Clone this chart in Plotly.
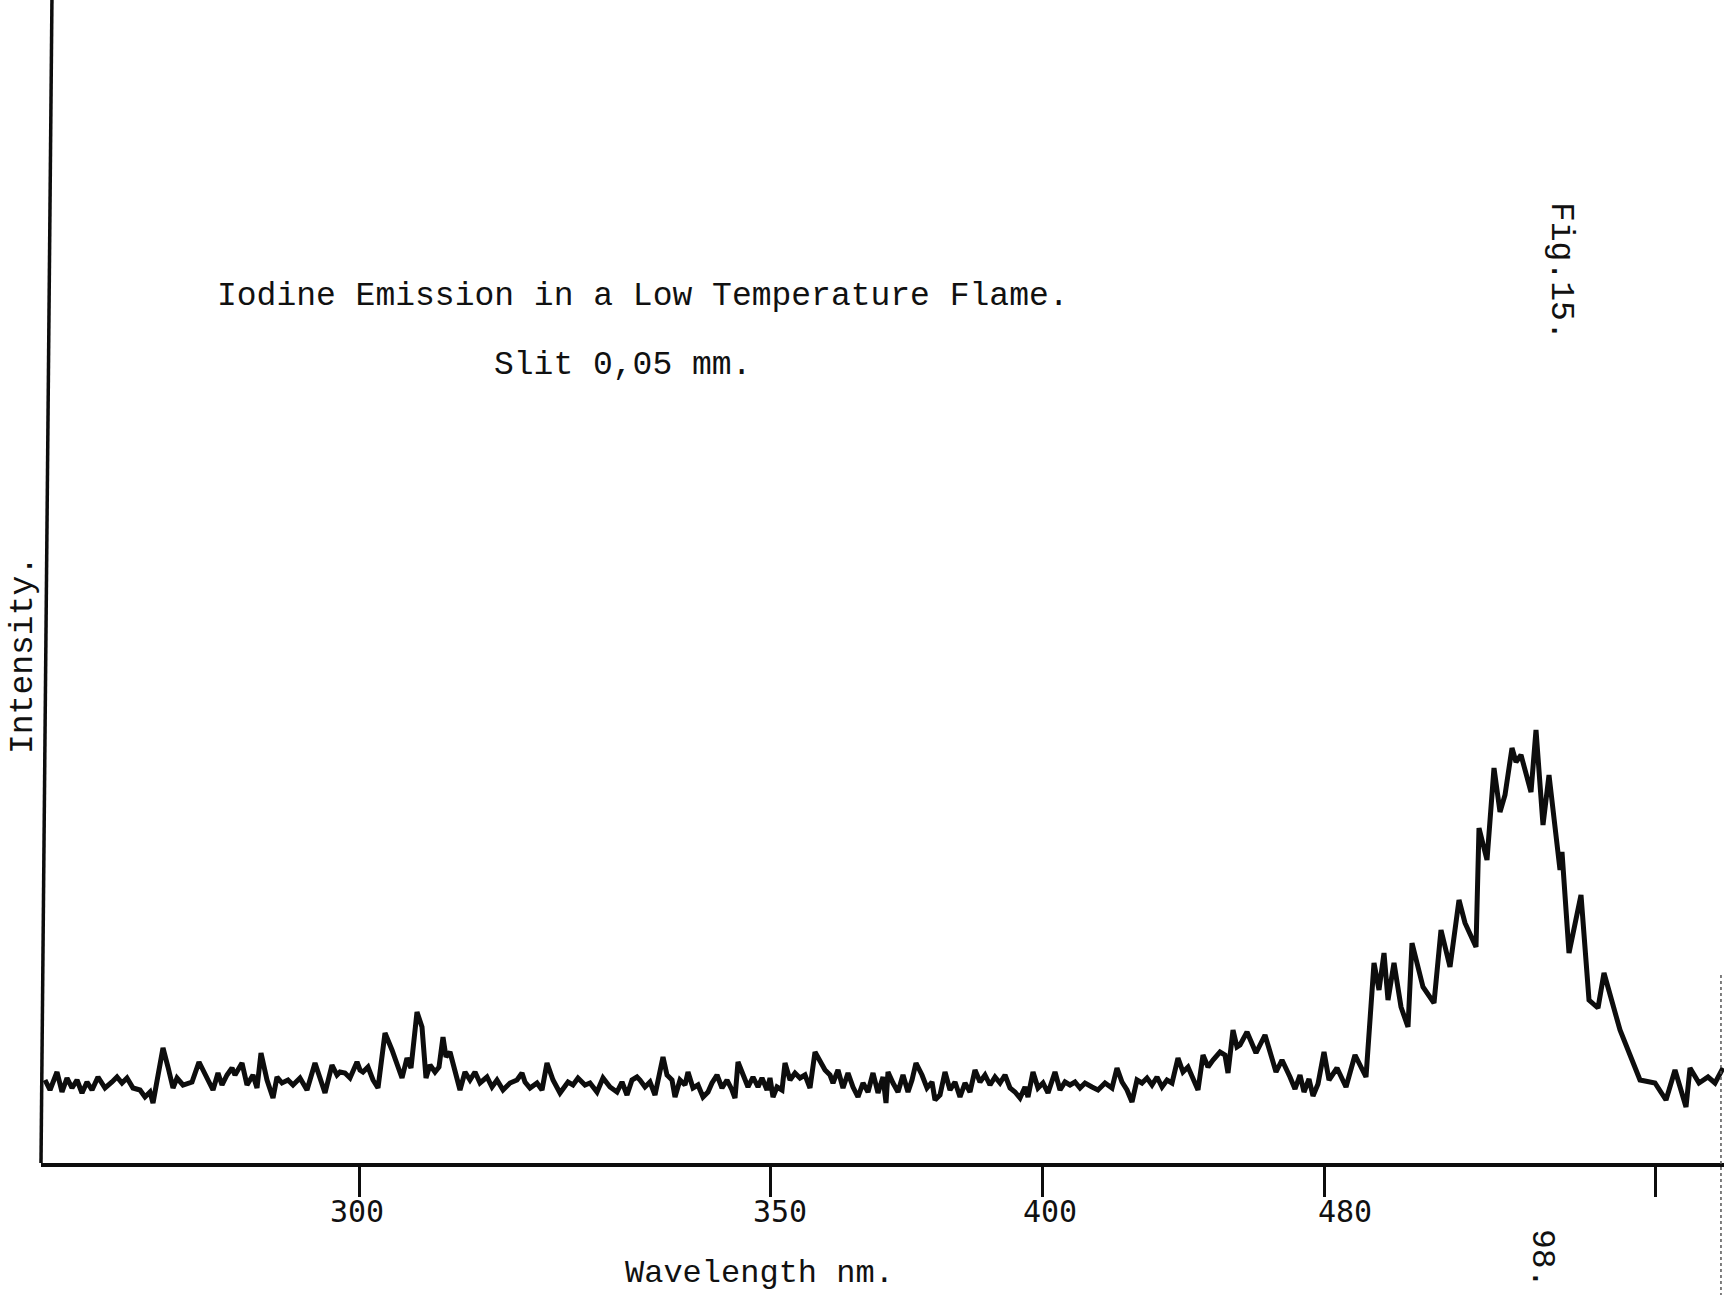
import plotly.graph_objects as go

# Chart position (recorder divisions) and recorded intensity of the emission trace
pos = [
    0.4, 0.9, 1.6, 2.1, 2.6, 3.1, 3.6, 4.1, 4.6, 5.1,
    5.7, 6.4, 7.1, 7.6, 8.1, 8.6, 9.2, 9.9, 10.4, 10.9,
    11.2, 11.6, 12.2, 12.7, 13.2, 13.6, 14.2, 15.1, 15.8, 16.6,
    17.2, 17.7, 18.1, 18.6, 19.1, 19.4, 20.1, 20.6, 21.2, 21.6,
    22.0, 22.6, 23.2, 23.6, 24.1, 24.7, 25.2, 25.9, 26.6, 27.4,
    27.9, 28.4, 29.1, 29.6,
    29.9, 30.4, 30.9, 31.6, 31.9, 32.2, 32.7, 33.2, 33.7, 34.4,
    35.1, 35.7, 36.1, 36.6, 37.0, 37.6, 38.1, 38.5, 38.9, 39.4,
    39.8, 40.2, 40.5, 40.9, 41.4, 41.9, 42.4, 42.9, 43.4, 43.9,
    44.6, 45.1, 45.6, 46.2, 46.9, 47.6, 48.1, 48.4, 48.9, 49.6,
    50.1, 50.6, 51.2, 51.9, 52.7, 53.2, 53.7, 54.4, 54.9, 55.6,
    56.2, 56.9, 57.6, 58.1, 58.6, 59.1, 59.6,
    59.9, 60.4, 60.9, 61.4, 61.7, 62.2, 62.6, 63.1, 63.4, 63.9,
    64.4, 64.7, 65.2, 65.7, 66.2, 66.7, 67.1, 67.6, 68.1, 68.6,
    69.1, 69.4, 69.7, 70.2, 70.7, 71.2, 71.7, 72.1, 72.6, 72.9,
    73.2, 73.6, 74.1, 74.4, 74.9, 75.4, 75.9, 76.4, 76.9, 77.4,
    77.9, 78.4, 78.9, 79.2, 79.7, 80.2, 80.7, 81.2, 81.7, 82.2,
    82.7, 83.2, 83.7, 84.2, 84.5, 84.7, 85.2, 85.7, 86.2, 86.7,
    87.1, 87.5, 88.1, 88.6, 89.1, 89.4,
    89.9, 90.4, 90.9, 91.4, 91.9, 92.4, 92.9, 93.4, 93.9, 94.4,
    94.9, 95.4, 95.9, 96.4, 96.9, 97.4, 97.9, 98.4, 98.7, 99.2,
    99.7, 100.2, 100.7, 101.4, 101.9, 102.4, 102.9, 103.4, 103.9, 104.4,
    105.1, 105.7, 106.4, 107.1, 107.6, 108.1, 108.6, 109.1, 109.6, 110.1,
    110.6, 111.1, 111.6, 112.1, 112.6, 113.1, 113.7, 114.2, 114.7, 115.2,
    115.7, 116.2, 116.7, 117.2, 117.9, 118.4, 118.7, 119.2, 119.6, 119.9,
    120.6, 121.5, 122.4, 123.5, 124.1, 124.9, 125.4, 125.9, 126.3, 126.8,
    127.2, 127.7, 128.3, 128.8,
    129.6, 130.5, 131.4, 132.5, 133.3, 133.8, 134.3, 134.7, 135.3, 136.0,
    136.7, 137.1, 138.2, 139.3, 140.0, 140.9, 141.8, 142.4, 143.5, 143.8,
    144.6, 145.3, 145.9, 146.4, 147.1, 147.5, 148.0, 149.0, 149.5, 150.2,
    150.8, 151.9, 152.1, 152.8, 154.0, 154.8, 155.7, 156.3, 157.9, 159.9,
    161.4, 162.5, 163.4, 164.5, 164.9, 165.8, 166.7, 167.4, 168.2,
]

intensity = [
    8.3, 7.3, 9.1, 7.1, 8.5, 7.5, 8.3, 7.0, 8.1, 7.3,
    8.6, 7.5, 8.1, 8.6, 8.0, 8.5, 7.5, 7.3, 6.6, 7.1,
    6.0, 8.3, 11.5, 9.6, 7.5, 8.5, 7.8, 8.1, 10.1, 8.5,
    7.3, 9.0, 7.8, 8.8, 9.5, 8.8, 10.0, 7.8, 8.8, 7.5,
    11.0, 8.3, 6.5, 8.6, 8.0, 8.3, 7.8, 8.5, 7.3, 10.0,
    8.3, 7.0, 9.8, 8.8,
    9.1, 9.0, 8.5, 10.1, 9.3, 9.1, 9.6, 8.3, 7.5, 13.0,
    11.3, 9.6, 8.5, 10.5, 9.5, 15.1, 13.6, 8.5, 9.8, 9.1,
    9.6, 12.6, 10.6, 11.1, 9.1, 7.3, 9.1, 8.3, 9.1, 8.0,
    8.6, 7.6, 8.3, 7.3, 8.0, 8.3, 9.0, 8.1, 7.5, 8.0,
    7.3, 10.0, 8.3, 7.0, 8.1, 7.8, 8.5, 7.8, 8.0, 7.1,
    8.5, 7.6, 7.1, 8.1, 6.8, 8.3, 8.6,
    8.3, 7.6, 8.1, 6.8, 8.3, 10.6, 8.8, 8.3, 6.6, 8.3,
    7.8, 9.1, 7.5, 7.8, 6.6, 7.1, 8.0, 8.8, 7.5, 8.3,
    7.3, 6.5, 10.1, 9.0, 7.6, 8.6, 7.6, 8.5, 7.3, 8.5,
    6.6, 7.6, 7.3, 10.0, 8.3, 9.0, 8.5, 8.8, 7.5, 11.1,
    10.1, 9.3, 8.8, 8.0, 9.3, 7.5, 9.0, 7.6, 6.6, 8.0,
    7.1, 9.0, 7.0, 8.6, 6.0, 9.1, 8.0, 7.1, 8.8, 7.1,
    8.3, 10.0, 8.8, 7.5, 8.1, 6.3,
    6.8, 9.1, 7.3, 8.1, 6.6, 8.0, 7.1, 9.3, 8.1, 8.8,
    7.8, 8.6, 8.0, 8.8, 7.5, 7.1, 6.5, 7.6, 6.6, 9.1,
    7.5, 8.0, 7.0, 9.1, 7.3, 8.1, 7.8, 8.1, 7.5, 8.0,
    7.6, 7.3, 8.0, 7.5, 9.5, 8.1, 7.3, 6.1, 8.3, 8.0,
    8.5, 7.8, 8.6, 7.6, 8.3, 8.0, 10.5, 9.1, 9.6, 8.3,
    7.3, 10.8, 9.6, 10.3, 11.1, 10.8, 9.0, 13.3, 11.6, 11.8,
    13.1, 11.0, 12.8, 9.1, 10.3, 8.6, 7.4, 8.8, 7.1, 8.4,
    6.7, 7.9, 11.1, 8.3,
    9.5, 7.6, 10.8, 8.6, 20.0, 17.3, 21.0, 16.3, 20.0, 15.6,
    13.6, 22.0, 17.6, 16.0, 23.3, 19.6, 26.3, 24.0, 21.6, 33.5,
    30.3, 39.5, 35.1, 36.8, 41.5, 40.1, 40.8, 37.1, 43.3, 33.8,
    38.8, 29.3, 31.1, 21.0, 26.8, 16.3, 15.5, 19.0, 13.3, 8.3,
    8.0, 6.3, 9.3, 5.6, 9.5, 8.0, 8.6, 8.0, 9.5,
]

# Wavelength marks along the chart
tick_pos = [31.8, 72.9, 100.1, 128.3, 161.4]
tick_text = ["300", "350", "400", "480"]
label_x = [0.1878, 0.4391, 0.5995, 0.7748]

TYPE_FONT = dict(family="Liberation Mono, Courier New, monospace", size=33, color="#111111")
DIGIT_FONT = dict(family="DejaVu Sans Mono, monospace", size=30, color="#111111")

fig = go.Figure()
fig.add_trace(go.Scatter(
    x=pos, y=intensity, mode="lines",
    line=dict(color="#0d0d0d", width=5, shape="linear"),
    hoverinfo="skip", showlegend=False,
))

fig.update_layout(
    width=1724, height=1295,
    margin=dict(l=41, r=0, t=5, b=132),
    paper_bgcolor="white", plot_bgcolor="white",
    xaxis=dict(
        range=[0, 168.3], showgrid=False, zeroline=False,
        showline=True, linewidth=4, linecolor="#0d0d0d",
        ticks="outside", ticklen=30, tickwidth=3, tickcolor="#0d0d0d",
        tickvals=tick_pos, showticklabels=False,
    ),
    yaxis=dict(
        range=[0, 115.8], showgrid=False, zeroline=False,
        showline=False, showticklabels=False, ticks="",
    ),
)

# Hand-ruled intensity axis, leaning slightly
fig.add_shape(type="line", xref="paper", yref="paper",
              x0=0.0, y0=0.0, x1=0.0065, y1=1.0043,
              line=dict(color="#0d0d0d", width=3.5))
# Dotted page edge on the right
fig.add_shape(type="line", xref="paper", yref="paper",
              x0=0.9982, y0=0.1623, x1=0.9982, y1=-0.114,
              line=dict(color="#555555", width=1.5, dash="dot"))

# Wavelength labels under the marks
for lx, lt in zip(label_x, tick_text):
    fig.add_annotation(x=lx, y=-0.0415, xref="paper", yref="paper", text=lt,
                       showarrow=False, font=DIGIT_FONT,
                       xanchor="center", yanchor="middle")

notes = [
    dict(x=0.3577, y=0.7487, text="Iodine Emission in a Low Temperature Flame.", textangle=0, size=33),
    dict(x=0.3458, y=0.6891, text="Slit 0,05 mm.", textangle=0, size=33),
    dict(x=0.4272, y=-0.0950, text="Wavelength nm.", textangle=0, size=32),
    dict(x=0.8913, y=-0.0820, text="98.", textangle=90, size=33),
    dict(x=0.9026, y=0.7703, text="Fig.15.", textangle=90, size=33),
    dict(x=-0.0101, y=0.4387, text="Intensity.", textangle=-90, size=33),
]
for n in notes:
    fig.add_annotation(x=n["x"], y=n["y"], xref="paper", yref="paper", text=n["text"],
                       textangle=n["textangle"], showarrow=False,
                       font=dict(TYPE_FONT, size=n["size"]),
                       xanchor="center", yanchor="middle")

fig.write_html("out.html")
